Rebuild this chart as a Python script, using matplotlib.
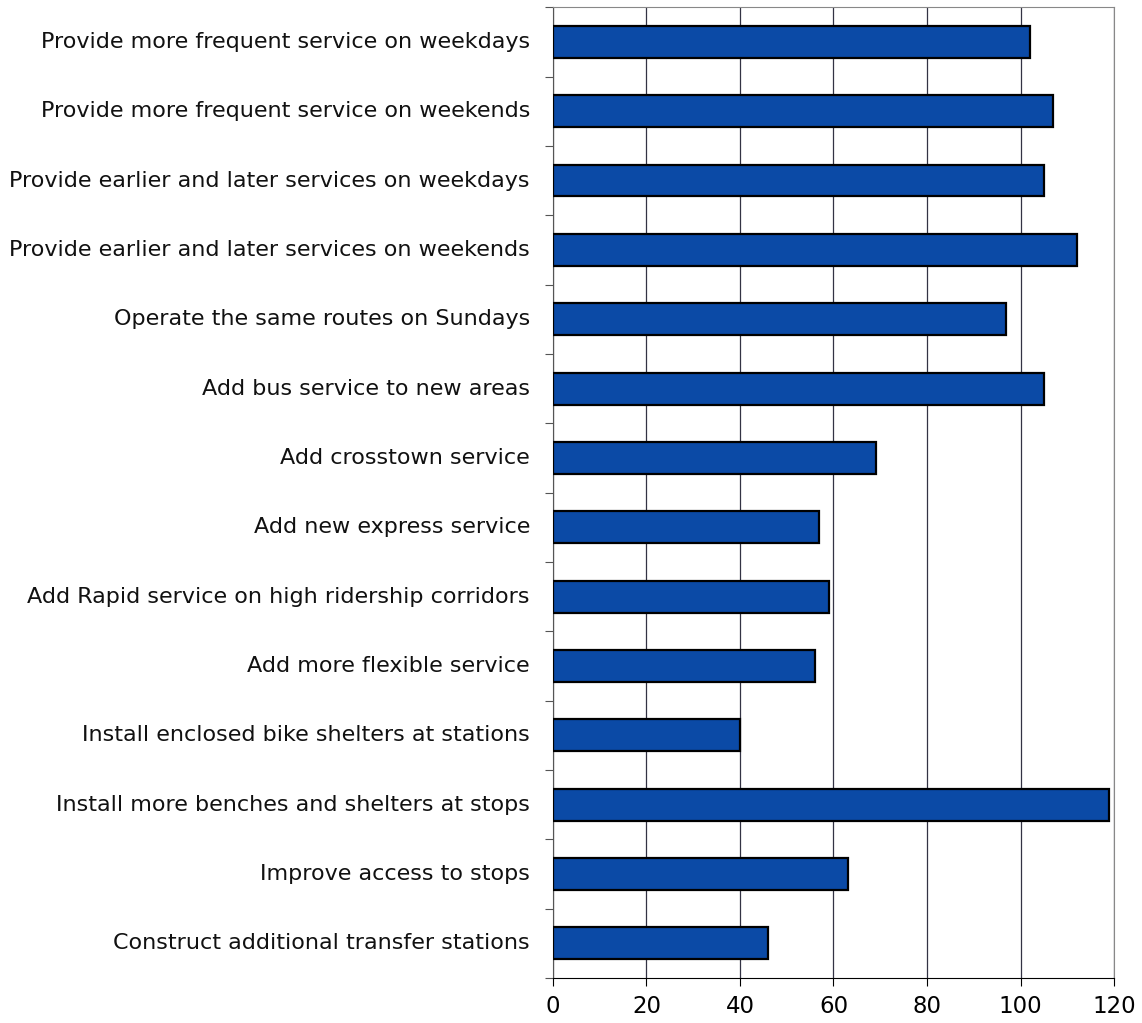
import matplotlib
matplotlib.use('Agg')
import matplotlib.pyplot as plt
import numpy as np

categories = [
    "Provide more frequent service on weekdays",
    "Provide more frequent service on weekends",
    "Provide earlier and later services on weekdays",
    "Provide earlier and later services on weekends",
    "Operate the same routes on Sundays",
    "Add bus service to new areas",
    "Add crosstown service",
    "Add new express service",
    "Add Rapid service on high ridership corridors",
    "Add more flexible service",
    "Install enclosed bike shelters at stations",
    "Install more benches and shelters at stops",
    "Improve access to stops",
    "Construct additional transfer stations",
]
values = [102, 107, 105, 112, 97, 105, 69, 57, 59, 56, 40, 119, 63, 46]
x_ticks = [0, 20, 40, 60, 80, 100, 120]

plt.rcParams['font.family'] = ['DejaVu Sans']

fig = plt.figure(figsize=(11.42, 10.23), dpi=100)
ax = fig.add_axes([0.4842, 0.044, 0.4913, 0.949])

y = np.arange(len(categories))
ax.barh(y, values, height=0.46, color='#0b4aa6', edgecolor='black',
        linewidth=1.6, zorder=3)

ax.set_xlim(0, 120)
ax.set_ylim(len(categories) - 0.5, -0.5)
ax.set_xticks(x_ticks)
ax.set_xticklabels([str(t) for t in x_ticks], fontsize=16.5)
ax.xaxis.grid(True, color='#333344', linewidth=0.9, zorder=0)

# category labels as text, tick marks at the category boundaries
ax.set_yticks(np.arange(len(categories) + 1) - 0.5)
ax.set_yticklabels([])
ax.tick_params(axis='y', length=6, width=0.8, color='#555555')
ax.tick_params(axis='x', length=6, width=0.8, pad=6)
for yi, label in zip(y, categories):
    ax.text(-0.041, yi, label, transform=ax.get_yaxis_transform(),
            ha='right', va='center', fontsize=16, color='#111111')

for side in ['top', 'right']:
    ax.spines[side].set_color('#888888')
    ax.spines[side].set_linewidth(0.8)
ax.spines['left'].set_color('#555555')
ax.spines['bottom'].set_color('black')

fig.savefig('out.png', dpi=100)
